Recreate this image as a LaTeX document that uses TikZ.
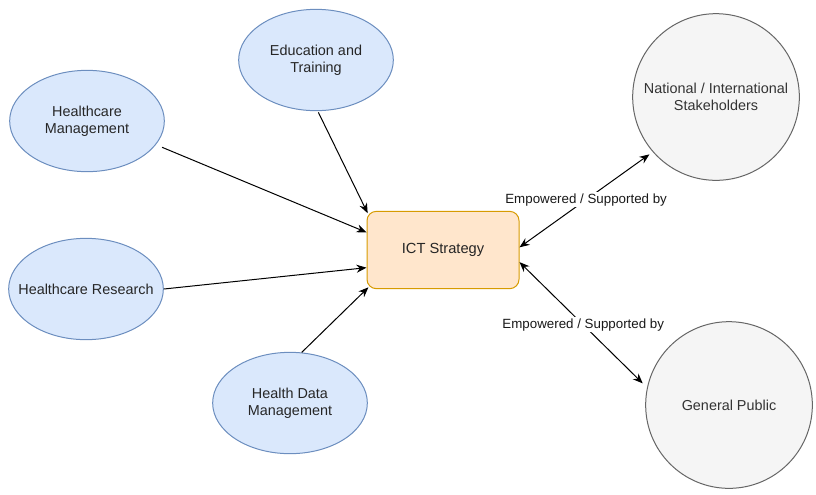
\documentclass[tikz,border=0pt]{standalone}
\usepackage{fontspec}
\setmainfont{Liberation Sans}
\usepackage{xcolor}
\usepackage{tikz}
\usetikzlibrary{arrows.meta,positioning,shapes.geometric}

\definecolor{topicfill}{HTML}{DAE8FC}
\definecolor{topicline}{HTML}{6C8EBF}
\definecolor{corefill}{HTML}{FFE6CC}
\definecolor{coreline}{HTML}{D79B00}
\definecolor{partyfill}{HTML}{F5F5F5}
\definecolor{partyline}{HTML}{666666}
\definecolor{partytext}{HTML}{333333}

\begin{document}
\begin{tikzpicture}[x=0.75pt, y=-0.75pt]
        % Define styles
        \tikzset{
            topic/.style={ellipse, draw=topicline, fill=topicfill, line width=0.75pt, inner xsep=-20pt, inner ysep=0pt, minimum width=116pt, minimum height=76pt, align=center, text=black!85, font=\fontsize{10.8}{13}\selectfont},
            core/.style={rectangle, rounded corners=7pt, draw=coreline, fill=corefill, line width=0.75pt, minimum width=114pt, minimum height=58pt, align=center, text=black!85, font=\fontsize{11}{13}\selectfont},
            party/.style={circle, draw=partyline, fill=partyfill, line width=0.75pt, inner sep=0pt, minimum size=125pt, align=center, text=partytext, font=\fontsize{10.8}{13}\selectfont},
            arrow/.style={line width=0.75pt, -{Stealth[length=7.5pt,width=6pt]}},
            biarrow/.style={line width=0.75pt, {Stealth[length=7.5pt,width=6pt]}-{Stealth[length=7.5pt,width=6pt]}},
            tag/.style={fill=white, inner sep=1pt, text=black!90, font=\fontsize{10}{12}\selectfont}
        }
        \useasboundingbox (0,0) rectangle (816,494);

        % Create nodes
        \node [core] (ict) at (443,250) {ICT Strategy};
        \node [topic] (edu) at (316,60) {Education and\\Training};
        \node [topic] (hm) at (87,121) {Healthcare\\Management};
        \node [topic] (hr) at (86,289) {Healthcare Research};
        \node [topic] (hd) at (290,403) {Health Data\\Management};
        \node [party] (ns) at (716,97) {National / International\\Stakeholders};
        \node [party] (gp) at (729,405) {General Public};

        % Create arrows
        \draw [arrow, shorten <=5pt] (hm.-19) -- (ict.167);
        \draw [arrow, shorten <=1pt, shorten >=-2pt] (edu.-88) -- (ict.north west);
        \draw [arrow] (hr.east) -- (ict.193);
        \draw [arrow, shorten >=-2pt] (hd.77) -- (ict.south west);

        % Two-way links
        \draw [biarrow, shorten >=3pt] (ict.2) -- node [tag] {Empowered / Supported by} (ns.221);
        \draw [biarrow, shorten >=4.5pt] (ict.351) -- node [tag] {Empowered / Supported by} (gp.168);
    \end{tikzpicture}
\end{document}
